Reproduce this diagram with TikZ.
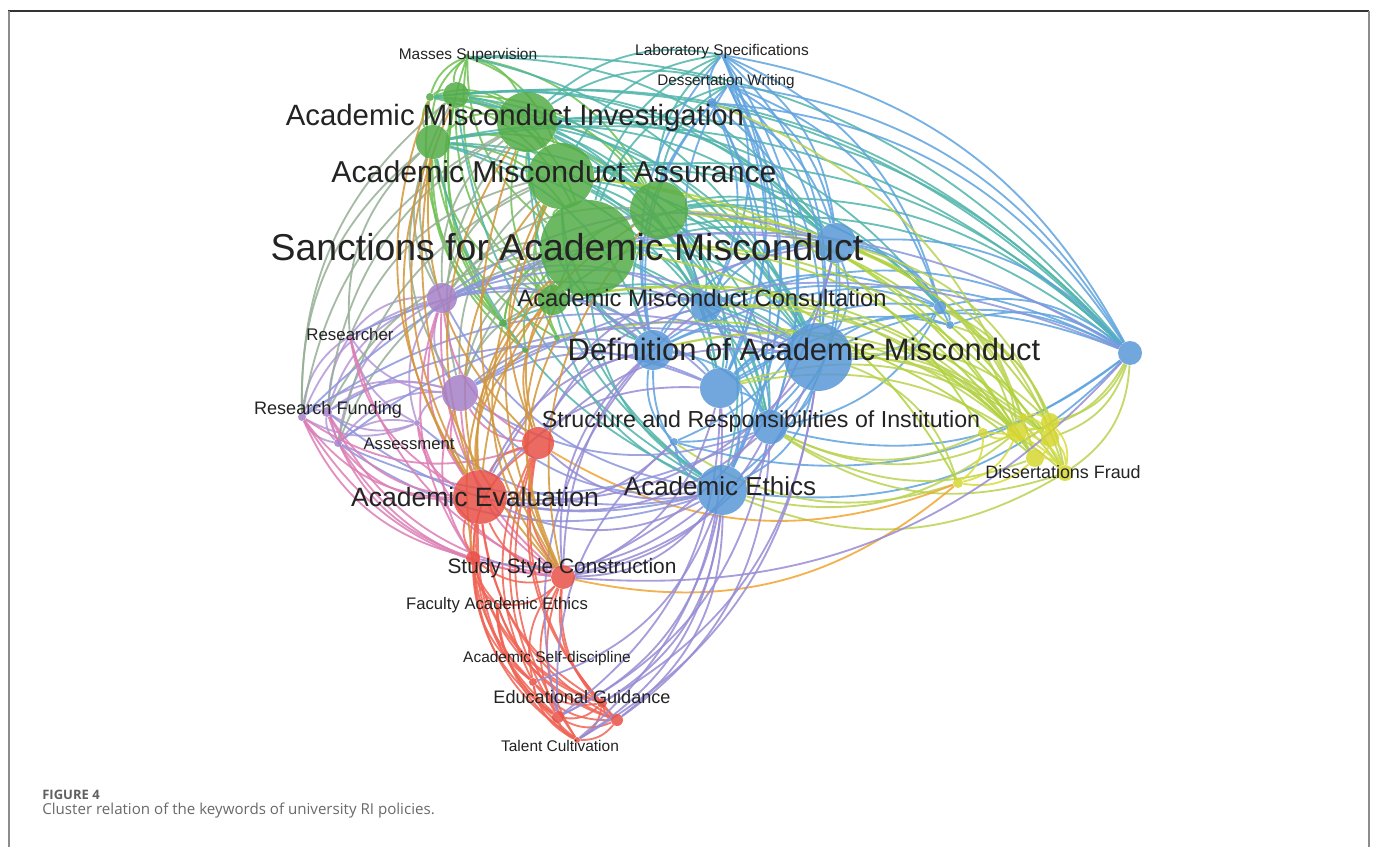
\documentclass[tikz,border=0pt]{standalone}
\usepackage{fontspec}
\setmainfont{Liberation Sans}
\newfontfamily\capfont{Open Sans}
\usetikzlibrary{backgrounds}

\definecolor{vgreen}{RGB}{84,172,72}
\definecolor{vblue}{RGB}{88,152,214}
\definecolor{vred}{RGB}{232,80,70}
\definecolor{vpurple}{RGB}{165,128,200}
\definecolor{vyellow}{RGB}{214,214,48}
\definecolor{eg}{RGB}{110,192,82}
\definecolor{eb}{RGB}{95,163,222}
\definecolor{er}{RGB}{240,100,85}
\definecolor{ep}{RGB}{180,150,215}
\definecolor{ey}{RGB}{220,220,60}
\definecolor{egb}{RGB}{80,180,170}
\definecolor{egy}{RGB}{175,210,60}
\definecolor{eby}{RGB}{185,210,80}
\definecolor{egr}{RGB}{210,150,60}
\definecolor{ebr}{RGB}{150,140,212}
\definecolor{epr}{RGB}{220,125,180}
\definecolor{egp}{RGB}{150,175,150}
\definecolor{ebp}{RGB}{140,150,220}
\definecolor{ery}{RGB}{240,165,50}
\definecolor{lblgray}{RGB}{35,35,35}
\definecolor{capgray}{RGB}{105,105,105}
\definecolor{framegray}{RGB}{140,140,140}

\newcommand\fsz[1]{\fontsize{#1}{#1}\selectfont}
% curved link, bent away from the middle of the map
\newcommand\vlink[3]{%
  \pgfpointanchor{#1}{center}\pgfgetlastxy{\lax}{\lay}%
  \pgfpointanchor{#2}{center}\pgfgetlastxy{\lbx}{\lby}%
  \pgfpointanchor{mid}{center}\pgfgetlastxy{\lmx}{\lmy}%
  \pgfmathsetmacro\lcrs{((\lax-\lmx)/100)*((\lby-\lmy)/100)-((\lay-\lmy)/100)*((\lbx-\lmx)/100)}%
  \pgfmathsetmacro\lbend{\lcrs<0 ? 26 : -26}%
  \draw[vedge, #3] (#1) to[bend left=\lbend] (#2);%
}

\begin{document}
\begin{tikzpicture}[
  x=0.02cm, y=-0.02cm,
  vnode/.style={circle, inner sep=0pt, draw=none, fill opacity=0.85},
  vedge/.style={line width=1.05pt, draw opacity=0.85},
  lbl/.style={inner sep=0pt, anchor=base, text=lblgray},
]
\useasboundingbox (0,0) rectangle (1375,847);
\coordinate (mid) at (700,400);

% Frame
\draw[draw=black!80, line width=0.04cm] (8,11) -- (1369,11);
\draw[draw=framegray, line width=0.05cm] (9,11) -- (9,847);
\draw[draw=framegray, line width=0.05cm] (1369,11) -- (1369,847);

% Nodes
\foreach \n/\x/\y/\r in {ms/467/57/3, g1/430/97/4, g2/456/95/13, g3/527/122/30,
  g4/433/142/17, g5/561/176/33, g6/659/210/29, g7/588/248/48, g8/553/300/15,
  g9/503/323/4, g10/525/350/3, g11/557/338/3}
  \node[vnode, fill=vgreen, minimum size=\r*0.04cm] (\n) at (\x,\y) {};
\foreach \n/\x/\y/\r in {lab/722/55/2, dw/728/85/2, b0/712/103/5, b1/836/243/20,
  b2/706/307/15, b3/653/350/20, b4/818/357/34, b5/720/388/20, b6/770/427/17,
  b7/722/490/25, b8/940/307/6, b9/950/325/4, b10/1130/353/12, b11/674/442/4}
  \node[vnode, fill=vblue, minimum size=\r*0.04cm] (\n) at (\x,\y) {};
\foreach \n/\x/\y/\r in {p1/442/298/15, p2/460/393/18, rf1/302/417/4,
  rf2/327/412/5, as1/338/443/4, p3/417/423/3}
  \node[vnode, fill=vpurple, minimum size=\r*0.04cm] (\n) at (\x,\y) {};
\foreach \n/\x/\y/\r in {r1/538/443/16, r2/480/497/27, r3/473/558/7,
  r4/563/577/12, r5/533/682/4, r6/558/717/6, r7/602/703/5, r8/617/720/6,
  tc/577/740/3}
  \node[vnode, fill=vred, minimum size=\r*0.04cm] (\n) at (\x,\y) {};
\foreach \n/\x/\y/\r in {y1/983/433/5, y2/1017/432/10, y3/1023/417/4,
  y4/1050/422/9, y5/1050/438/9, y6/1035/458/9, y7/1065/473/8, y8/958/483/5}
  \node[vnode, fill=vyellow, minimum size=\r*0.04cm] (\n) at (\x,\y) {};
\coordinate (res) at (350,336);
\coordinate (fae) at (497,604);

% Links
\begin{scope}[on background layer]
\foreach \a/\b in {ms/g1, ms/g2, ms/g3, ms/g4, ms/g5, ms/g6, ms/g7, ms/g8,
  g1/g4, g1/g7, g1/g9, g2/g3, g2/g4, g2/g5, g2/g7, g2/g9, g2/g10, g3/g4,
  g3/g5, g3/g6, g3/g7, g3/g8, g4/g5, g4/g7, g4/g8, g4/g9, g4/g10, g4/g11,
  g5/g6, g5/g7, g5/g8, g6/g7, g6/g8, g7/g8, g7/g9, g5/g11, g1/g3, g1/g5,
  g2/g6, g4/g6, g1/g2, ms/g9, g2/g8, g9/g7, g10/g7, g11/g7}
  {\vlink{\a}{\b}{eg}}
\foreach \a/\b in {ms/b1, ms/b4, g2/b4, g2/b7, g3/b1, g3/b2, g3/b4, g3/b6,
  g3/b8, g3/b10, g4/b1, g4/b4, g4/b7, g5/b1, g5/b3, g5/b4, g5/b7, g5/b10,
  g6/b1, g6/b2, g6/b4, g6/b6, g6/b8, g6/b10, g7/b1, g7/b2, g7/b3, g7/b4,
  g7/b5, g7/b6, g7/b7, g7/b10, g8/b4, g2/b1, g4/b10, lab/g3, lab/g5, dw/g7,
  g1/b1, g1/b4, g2/b10, g4/b2, g4/b3, g2/b2, g3/b3, g3/b5, g3/b7, g5/b2,
  g5/b5, g5/b6, g5/b8, g6/b3, g6/b5, g6/b7, g8/b1, g8/b3, g8/b7, g9/b4,
  ms/b10, g1/b10, lab/g7, dw/g3, lab/g6, dw/g6, g4/b6}
  {\vlink{\a}{\b}{egb}}
\foreach \a/\b in {lab/b0, lab/b1, lab/b2, lab/b3, lab/b4, lab/b5, lab/b6,
  lab/b8, lab/b10, dw/b1, dw/b2, dw/b3, dw/b4, dw/b5, dw/b7, dw/b10, b0/b3,
  b0/b4, b0/b10, b1/b2, b1/b3, b1/b4, b1/b5, b1/b8, b1/b9, b1/b10, b2/b3,
  b2/b4, b2/b5, b2/b10, b3/b4, b3/b5, b3/b7, b3/b10, b4/b5, b4/b6, b4/b7,
  b4/b8, b4/b10, b5/b6, b5/b7, b5/b10, b6/b7, b6/b10, b7/b10, b8/b9, b8/b10,
  b9/b10, b11/b4, b11/b7, b11/b10, b3/b6, b2/b7, lab/b7, dw/b6, dw/b8,
  b0/b1, b0/b2, b0/b5, b0/b7, b1/b6, b1/b7, b2/b6, b2/b8, b3/b8, b5/b8,
  b6/b8, b11/b1, b11/b3, b9/b4, b9/b5}
  {\vlink{\a}{\b}{eb}}
\foreach \a/\b in {b1/y2, b1/y6, b1/y7, b2/y2, b3/y5, b4/y2, b4/y4, b4/y6,
  b4/y7, b4/y8, b5/y5, b6/y1, b6/y2, b6/y6, b7/y7, b8/y7, b10/y4, b10/y5,
  b10/y2, b0/y6, b2/y6, b3/y2, b5/y7, b6/y7, b8/y2, b9/y4, b10/y7, b1/y4,
  b11/y8, b7/y2}
  {\vlink{\a}{\b}{eby}}
\foreach \a/\b in {g5/y1, g5/y6, g6/y2, g6/y4, g6/y7, g7/y2, g7/y5, g7/y8,
  g8/y2, g8/y5, g11/y6}
  {\vlink{\a}{\b}{egy}}
\foreach \a/\b in {y1/y2, y1/y7, y1/y8, y2/y3, y2/y4, y2/y5, y2/y6, y2/y7,
  y2/y8, y3/y4, y3/y5, y4/y5, y4/y7, y5/y6, y5/y7, y6/y7, y6/y8}
  {\vlink{\a}{\b}{ey}}
\foreach \a/\b in {r1/y8, r4/y8}
  {\vlink{\a}{\b}{ery}}
\foreach \a/\b in {p1/p2, p1/rf1, p1/rf2, p1/as1, p1/p3, p1/res, p2/rf1,
  p2/rf2, p2/as1, p2/p3, p2/res, rf1/rf2, rf1/as1, rf2/as1, rf1/res, res/as1,
  p3/rf1, p3/as1, res/p3, rf2/p3}
  {\vlink{\a}{\b}{ep}}
\foreach \a/\b in {p1/g3, p1/g4, p1/g5, p1/g7, p2/g3, p2/g5, p2/g7, rf1/g3,
  rf1/g4, res/g4, rf2/g7, as1/g7, rf1/g2, res/g5, p2/g4, as1/g5, rf2/g3,
  p1/g2, p1/g6, p2/g6, p2/g8}
  {\vlink{\a}{\b}{egp}}
\foreach \a/\b in {p1/b1, p1/b2, p1/b4, p1/b7, p2/b3, p2/b4, p2/b5, p2/b6,
  p2/b7, rf1/b4, rf2/b5, as1/b7, p3/b7, res/b4, as1/b6, rf1/b1, rf2/b7,
  p1/b3, p1/b5, p1/b10, p2/b10, as1/b4}
  {\vlink{\a}{\b}{ebp}}
\foreach \a/\b in {p1/r1, p1/r2, p2/r1, p2/r2, p2/r3, p2/r4, rf1/r1, rf1/r2,
  rf1/r4, rf2/r2, as1/r2, as1/r4, res/r2, p3/r2, rf1/r3, p1/r4,
  p1/r3, rf2/r4, rf2/r3, res/r4, p3/r4}
  {\vlink{\a}{\b}{epr}}
\foreach \a/\b in {r1/r2, r1/r3, r1/r4, r1/r6, r1/r7, r1/r8, r1/tc, r2/r3,
  r2/r4, r2/r5, r2/r6, r2/r7, r2/r8, r2/tc, r2/fae, r3/r4, r3/r5, r3/r6,
  r3/r7, r3/tc, r4/r5, r4/r6, r4/r7, r4/r8, r4/tc, r4/fae, fae/r6, fae/r8,
  r5/r6, r5/tc, r6/r7, r6/tc, r7/r8, r7/tc, r8/tc, fae/tc, r1/r5, r3/r8,
  fae/r7, r5/r7, r5/r8, r6/r8, fae/r5, r3/fae}
  {\vlink{\a}{\b}{er}}
\foreach \a/\b in {b1/r2, b2/r1, b3/r2, b4/r1, b4/r2, b4/r4, b4/r7, b5/r2,
  b5/r4, b6/r2, b6/r4, b6/r6, b7/r1, b7/r2, b7/r4, b7/r6, b7/r7, b7/r8,
  b7/tc, b10/r4, b11/r2, b5/r6, b3/r6, b6/r8, b4/tc, b1/r4, b2/r4, b3/r4,
  b5/tc, b3/r1, b7/r3, b7/r5, b11/r6}
  {\vlink{\a}{\b}{ebr}}
\foreach \a/\b in {g2/r2, g3/r2, g3/r4, g4/r2, g4/r4, g5/r1, g5/r2, g5/r4,
  g6/r2, g7/r1, g7/r2, g7/r4, g8/r2, g9/r4, g10/r2, g4/r1, g6/r4,
  g8/r1, g1/r2, g7/r3, g11/r4}
  {\vlink{\a}{\b}{egr}}
\end{scope}

% Labels
\node[lbl, font=\fsz{8.8}] (l-ms) at (468,60) {Masses Supervision};
\node[lbl, font=\fsz{8.8}] (l-lab) at (722,56) {Laboratory Specifications};
\node[lbl, font=\fsz{8.7}] (l-dw) at (726,86) {Dessertation Writing};
\node[lbl, font=\fsz{16.7}] (l-g3) at (515,126) {Academic Misconduct Investigation};
\node[lbl, font=\fsz{17.2}] (l-g5) at (554,183) {Academic Misconduct Assurance};
\node[lbl, font=\fsz{21.3}] (l-g7) at (567,261) {Sanctions for Academic Misconduct};
\node[lbl, font=\fsz{13.5}] (l-b2) at (702,307) {Academic Misconduct Consultation};
\node[lbl, font=\fsz{9.6}] (l-res) at (350,341) {Researcher};
\node[lbl, font=\fsz{17.6}] (l-b4) at (804,361) {Definition of Academic Misconduct};
\node[lbl, font=\fsz{10.3}] (l-rf) at (328,415) {Research Funding};
\node[lbl, font=\fsz{13.2}] (l-b6) at (761,428) {Structure and Responsibilities of Institution};
\node[lbl, font=\fsz{9.5}] (l-as) at (409,449) {Assessment};
\node[lbl, font=\fsz{14.8}] (l-b7) at (720,495) {Academic Ethics};
\node[lbl, font=\fsz{15.1}] (l-r2) at (475,506) {Academic Evaluation};
\node[lbl, font=\fsz{10.2}] (l-y7) at (1063,479) {Dissertations Fraud};
\node[lbl, font=\fsz{11.9}] (l-r4) at (562,573) {Study Style Construction};
\node[lbl, font=\fsz{9.5}] (l-fae) at (497,609) {Faculty Academic Ethics};
\node[lbl, font=\fsz{8.8}] (l-asd) at (547,662) {Academic Self-discipline};
\node[lbl, font=\fsz{10.3}] (l-eg) at (582,703) {Educational Guidance};
\node[lbl, font=\fsz{8.8}] (l-tc) at (560,751) {Talent Cultivation};

% Caption
\node[anchor=base west, inner sep=0pt, text=capgray!90!black, font=\capfont\bfseries\fsz{7.4}] (fig) at (42,799) {FIGURE 4};
\node[anchor=base west, inner sep=0pt, text=capgray, font=\capfont\fsz{8.6}] (cap) at (42,814) {Cluster relation of the keywords of university RI policies.};
\end{tikzpicture}
\end{document}
